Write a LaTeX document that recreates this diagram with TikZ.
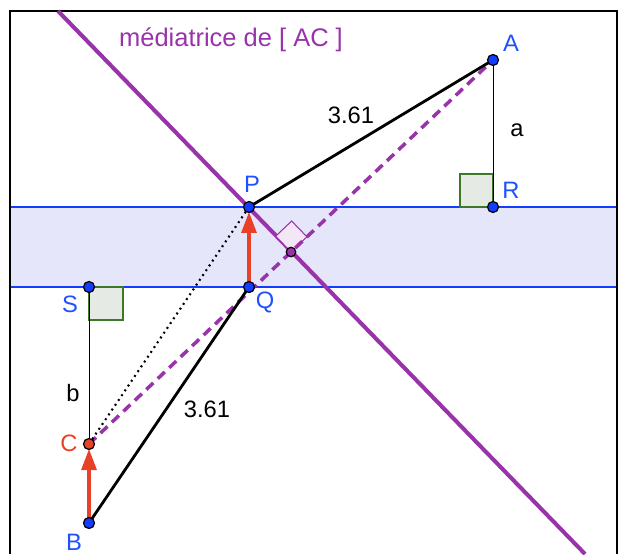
\documentclass[tikz,border=0pt]{standalone}
\usepackage{fontspec}
\setmainfont{Liberation Sans}
\usetikzlibrary{arrows.meta,calc}

\definecolor{violetmed}{RGB}{153,51,170}
\definecolor{bleupt}{RGB}{20,60,255}
\definecolor{bleutxt}{RGB}{30,80,255}
\definecolor{rougevec}{RGB}{232,65,40}
\definecolor{bande}{RGB}{230,230,250}
\definecolor{vertangle}{RGB}{60,120,40}
\definecolor{grisangle}{RGB}{229,234,228}

\tikzset{
  point/.style={circle, draw=black, line width=0.7pt, fill=bleupt, inner sep=0pt, minimum size=0.22cm},
  lettre/.style={text=bleutxt, font=\fontsize{13.5}{15}\selectfont},
  mesure/.style={font=\fontsize{13.5}{15}\selectfont},
  angledroit/.style={draw=vertangle, fill=grisangle, line width=0.6pt},
  vecteur/.style={draw=rougevec, line width=1.8pt, -{Triangle[length=0.42cm,width=0.3cm]}},
}

\begin{document}
\begin{tikzpicture}[x=0.02cm, y=-0.02cm]
    \useasboundingbox (0,0) rectangle (618,554);

    % Points (en pixels de la figure)
    \coordinate (A) at (493,60);
    \coordinate (R) at (493,207);
    \coordinate (P) at (249,207);
    \coordinate (Q) at (249,287);
    \coordinate (S) at (89,287);
    \coordinate (C) at (89,444);
    \coordinate (B) at (89,523);
    \coordinate (M) at ($(A)!0.5!(C)$);
    \coordinate (h) at (58,11);
    \coordinate (k) at (585,554);

    % Bande entre les deux droites
    \fill[bande] (10,207) rectangle (617,287);
    \draw[bleupt, line width=1.2pt] (10,207) -- (617,207);
    \draw[bleupt, line width=1.2pt] (10,287) -- (617,287);

    % Cadre
    \draw[line width=1pt] (10,554) -- (10,11) -- (617,11) -- (617,554);

    % Angles droits
    \draw[angledroit] (R) rectangle ++(-33,-33);
    \draw[angledroit] (S) rectangle ++(34,33);

    % Mediatrice de [AC]
    \draw[violetmed, line width=2.3pt] (h) -- (k);
    \coordinate (m1) at ($(M)!0.44cm!(h)$);
    \coordinate (m2) at ($(M)!0.44cm!(A)$);
    \coordinate (m3) at ($(m1)+(m2)-(M)$);
    \draw[violetmed, fill=violetmed!12, line width=0.6pt] (M) -- (m1) -- (m3) -- (m2) -- cycle;
    \draw[violetmed, line width=2pt, dash pattern=on 5.5pt off 3.5pt] (C) -- (A);

    % Segments
    \draw[dash pattern=on 1.1pt off 2.2pt, line width=1.2pt] (C) -- (P);
    \draw[line width=0.5pt] (A) -- (R);
    \draw[line width=0.5pt] (S) -- (C);
    \draw[line width=1.6pt] (P) -- (A);
    \draw[line width=1.6pt] (B) -- (Q);

    % Vecteurs
    \draw[vecteur, shorten >=0.1cm] (Q) -- (P);
    \draw[vecteur, shorten >=0.1cm] (B) -- (C);

    % Points
    \foreach \p in {A,R,P,Q,S,B} {
        \node[point] at (\p) {};
    }
    \node[point, fill=rougevec] at (C) {};
    \node[point, fill=violetmed, minimum size=0.19cm] at (M) {};

    % Etiquettes
    \node[lettre] (lA) at (511,43) {A};
    \node[lettre] (lR) at (511,190) {R};
    \node[lettre] (lP) at (252,184) {P};
    \node[lettre] (lQ) at (265,302) {Q};
    \node[lettre] (lS) at (70,304) {S};
    \node[lettre, text=rougevec] (lC) at (69,443) {C};
    \node[lettre] (lB) at (74,542) {B};
    \node[mesure] (la) at (517,130) {a};
    \node[mesure] (lb) at (73,393) {b};
    \node[mesure] (d1) at (351,115) {3.61};
    \node[mesure] (d2) at (207,409) {3.61};
    \node[mesure, text=violetmed, font=\fontsize{14.5}{16}\selectfont] (titre) at (231,40) {médiatrice de [ AC ]};
\end{tikzpicture}
\end{document}
